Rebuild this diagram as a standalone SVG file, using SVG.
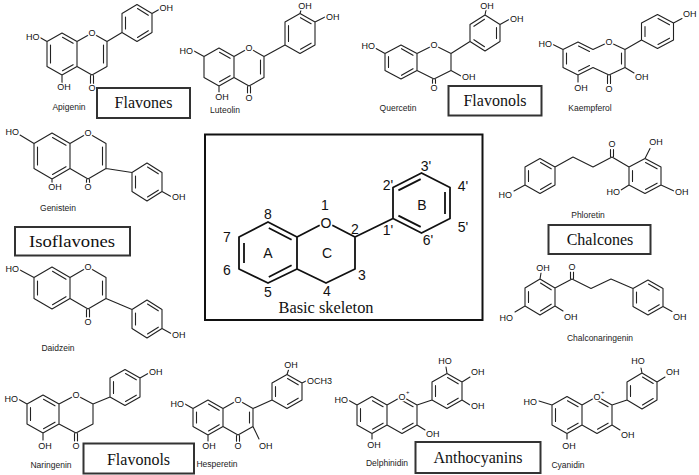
<svg xmlns="http://www.w3.org/2000/svg" width="699" height="475" viewBox="0 0 699 475">
<style>
.b{fill:none;stroke:#222;stroke-width:1.1;stroke-linecap:round;stroke-linejoin:round}
.sk{fill:none;stroke:#111;stroke-width:1.8;stroke-linejoin:round}
.k{fill:#fff;stroke:none}
.t{font-family:"Liberation Sans",Arial,sans-serif;font-size:9px;fill:#111;stroke:#fff;stroke-width:3px;paint-order:stroke;stroke-linejoin:round}
.e{text-anchor:end}
.c{text-anchor:middle}
.nm{font-family:"Liberation Sans",Arial,sans-serif;font-size:8.5px;fill:#222;text-anchor:middle}
.box{fill:#fff;stroke:#333;stroke-width:2}
.cat{font-family:"Liberation Serif","DejaVu Serif","Noto Serif","Times New Roman",Times,serif;font-size:16px;text-anchor:middle;fill:#111}
.num{font-family:"Liberation Sans",Arial,sans-serif;font-size:14px;text-anchor:middle;fill:#111}
.sup{font-family:"Liberation Sans",Arial,sans-serif;font-size:6px;fill:#111}
</style>
<rect width="699" height="475" fill="#fff"/>

<g id="apigenin">
<path class="b" d="M62,33 L77,41.5 L77,66.5 L62,75 L47,66.5 L47,41.5 Z M77,41.5 L92,33 L107,41.5 L107,66.5 L92,75 L77,66.5 M50.5,45 L50.5,63 M62.5,37.3 L73.1,43.3 M73.1,64.7 L62.5,70.7 M103.5,45 L103.5,63 M90.5,75.5 L90.5,84 M93.5,75.5 L93.5,84 M47,41.5 L40,37.5 M62,75 L62,83 M107,41.5 L122,32.5 M137,4.5 L152,13.5 L152,32.5 L137,41.5 L122,32.5 L122,13.5 Z M125.5,17 L125.5,29 M137.5,8.5 L148.3,15.3 M148.3,30.7 L137.5,37.5 M152,13.5 L159,9.5"/>
<circle class="k" cx="92" cy="33" r="3.8"/>
<text class="t e" x="39.5" y="40">HO</text>
<text class="t c" x="92" y="36.2">O</text>
<text class="t c" x="92" y="91">O</text>
<text class="t c" x="64" y="90">OH</text>
<text class="t" x="159.5" y="11">OH</text>
<text class="nm" x="69" y="110">Apigenin</text>
</g>

<g id="luteolin">
<path class="b" d="M219,48 L234,56.5 L234,77.5 L219,86 L204,77.5 L204,56.5 Z M234,56.5 L249,48 L264,56.5 L264,77.5 L249,86 L234,77.5 M219.5,52.3 L230.1,58.3 M230.1,75.7 L219.5,81.7 M260.5,60 L260.5,74 M247.5,86.5 L247.5,93 M250.5,86.5 L250.5,93 M219,86 L219,92 M204,56.5 L194,51 M264,56.5 L285,45 M300,13.5 L315,22 L315,45 L300,53.5 L285,45 L285,22 Z M288.5,25.5 L288.5,41.5 M300.5,17.7 L311.1,23.7 M311.1,43.2 L300.5,49.2 M300,13.5 L301,10 M315,22 L325,17"/>
<circle class="k" cx="249" cy="48" r="3.8"/>
<text class="t e" x="193" y="54">HO</text>
<text class="t c" x="249" y="51.2">O</text>
<text class="t c" x="249" y="100.5">O</text>
<text class="t c" x="222" y="100">OH</text>
<text class="t c" x="305" y="9">OH</text>
<text class="t" x="326" y="20">OH</text>
<text class="nm" x="225" y="113">Luteolin</text>
</g>

<g id="quercetin">
<path class="b" d="M401,45 L417,53.5 L417,70.5 L401,79 L385,70.5 L385,53.5 Z M417,53.5 L434,45 L451,53.5 L451,70.5 L434,79 L417,70.5 M388.5,56.5 L388.5,67.5 M401.5,48.7 L413,55.3 M413,68.7 L401.5,75.3 M432.5,79.5 L432.5,84.5 M435.5,79.5 L435.5,84.5 M451,70.5 L461,76 M385,53.5 L376,48.5 M451,53.5 L470,41.5 M485,15 L500,24.5 L500,41.5 L485,51 L470,41.5 L470,24.5 Z M496.5,27.5 L496.5,38.5 M473.9,26.3 L484.5,19.3 M484.5,46.7 L473.9,39.7 M485,15 L486,10 M500,24.5 L509,19.5"/>
<circle class="k" cx="434" cy="45" r="3.8"/>
<text class="t e" x="375" y="49">HO</text>
<text class="t c" x="434" y="48.2">O</text>
<text class="t c" x="434" y="91">O</text>
<text class="t" x="462" y="80">OH</text>
<text class="t c" x="487" y="8.5">OH</text>
<text class="t" x="510" y="21.5">OH</text>
<text class="nm" x="398" y="111">Quercetin</text>
</g>

<g id="kaempferol">
<path class="b" d="M563,49.5 L578,42 L593,49.5 L609,42 L625,49.5 L625,67.5 L609,75 L593,67.5 L578,75 L563,67.5 Z M566.5,53 L566.5,64 M578.5,46 L589.5,51.5 M589.5,65.5 L578.5,71 M621.5,53 L621.5,64 M607.5,75.5 L607.5,83.5 M610.5,75.5 L610.5,83.5 M563,49.5 L553,44.5 M578,75 L578,82 M625,67.5 L634,73 M625,49.5 L641.5,40 M657.5,14.5 L673.5,23 L673.5,40 L657.5,48.5 L641.5,40 L641.5,23 Z M645,26.5 L645,36.5 M658,18.5 L669.5,24.8 M669.5,38.2 L658,44.5 M673.5,23 L682,18.5"/>
<circle class="k" cx="609" cy="42" r="3.8"/>
<text class="t e" x="552" y="47">HO</text>
<text class="t c" x="609" y="45.2">O</text>
<text class="t c" x="609" y="92">O</text>
<text class="t c" x="581" y="91">OH</text>
<text class="t" x="635" y="80">OH</text>
<text class="t" x="683" y="17">OH</text>
<text class="nm" x="590" y="111">Kaempferol</text>
</g>

<g id="genistein">
<path class="b" d="M52,133 L70,143.5 L70,168.5 L52,179 L34,168.5 L34,143.5 Z M70,143.5 L88,133 L106,143.5 L106,168.5 L88,179 L70,168.5 M37.5,147 L37.5,165 M52.5,137.5 L66,145.3 M66,166.7 L52.5,174.5 M102.5,147 L102.5,165 M86.5,179.5 L86.5,183 M89.5,179.5 L89.5,183 M34,143.5 L20,135 M52,179 L52,183 M106,168.5 L132,172.5 M147,163 L162,172.5 L162,191.5 L147,201 L132,191.5 L132,172.5 Z M135.5,176 L135.5,188 M147.5,167 L158.3,173.8 M158.3,190.2 L147.5,197 M162,191.5 L171,196.5"/>
<circle class="k" cx="88" cy="133" r="3.8"/>
<text class="t e" x="19" y="135">HO</text>
<text class="t c" x="88" y="136.2">O</text>
<text class="t c" x="88" y="190">O</text>
<text class="t c" x="55" y="190">OH</text>
<text class="t" x="172" y="200">OH</text>
<text class="nm" x="58" y="211">Genistein</text>
</g>

<g id="daidzein">
<path class="b" d="M52,267 L70,277.5 L70,298.5 L52,309 L34,298.5 L34,277.5 Z M70,277.5 L88,267 L106,277.5 L106,298.5 L88,309 L70,298.5 M37.5,281 L37.5,295 M52.5,271.3 L66,279.3 M66,296.7 L52.5,304.7 M102.5,281 L102.5,295 M86.5,309.5 L86.5,317 M89.5,309.5 L89.5,317 M34,277.5 L20,270 M106,298.5 L132,309.5 M147,300 L162,309.5 L162,328.5 L147,338 L132,328.5 L132,309.5 Z M135.5,313 L135.5,325 M147.5,304 L158.3,310.8 M158.3,327.2 L147.5,334 M162,328.5 L171,333.5"/>
<circle class="k" cx="88" cy="267" r="3.8"/>
<text class="t e" x="19" y="272">HO</text>
<text class="t c" x="88" y="270.2">O</text>
<text class="t c" x="88" y="325">O</text>
<text class="t" x="172" y="338">OH</text>
<text class="nm" x="58" y="351">Daidzein</text>
</g>

<g id="phloretin">
<path class="b" d="M540,158.5 L555,167 L555,185 L540,193.5 L525,185 L525,167 Z M528.5,170.5 L528.5,181.5 M540.5,162.5 L551.2,168.8 M551.2,183.2 L540.5,189.5 M555,167 L573,157 L593,167 L612,157 L629,167 M610.5,156.5 L610.5,149.5 M613.5,156.5 L613.5,149.5 M645,158.5 L661,167 L661,185 L645,193.5 L629,185 L629,167 Z M632.5,170.5 L632.5,181.5 M645.5,162.5 L657.1,168.8 M657.1,183.2 L645.5,189.5 M525,185 L514,191 M645,158.5 L650,148.5 M629,185 L621,190 M661,185 L674,191"/>
<text class="t c" x="612" y="147">O</text>
<text class="t e" x="512" y="198">HO</text>
<text class="t c" x="656" y="145">OH</text>
<text class="t e" x="620" y="195">HO</text>
<text class="t" x="675" y="195">OH</text>
<text class="nm" x="588" y="218">Phloretin</text>
</g>

<g id="chalconaringenin">
<path class="b" d="M540,279 L555,288 L555,306 L540,315 L525,306 L525,288 Z M528.5,291.5 L528.5,302.5 M540.5,283 L551.2,289.8 M551.2,304.2 L540.5,311 M555,288 L572,279 L591,288.5 L611,279 L633,288.5 M570.5,278.5 L570.5,272 M573.5,278.5 L573.5,272 M648,280 L663,288.5 L663,306.5 L648,315 L633,306.5 L633,288.5 Z M636.5,292 L636.5,303 M648.5,284 L659.2,290.3 M659.2,304.7 L648.5,311 M540,279 L541,273 M525,306 L515,312 M555,306 L563,311 M663,306.5 L672,311.5"/>
<text class="t c" x="572" y="270">O</text>
<text class="t c" x="543" y="271">OH</text>
<text class="t e" x="513" y="321">HO</text>
<text class="t" x="564" y="320">OH</text>
<text class="t" x="673" y="320">OH</text>
<text class="nm" x="600" y="341">Chalconaringenin</text>
</g>

<g id="naringenin">
<path class="b" d="M43,395 L59,404 L59,424 L43,433 L27,424 L27,404 Z M59,404 L76,395 L93,404 L93,424 L76,433 L59,424 M30.5,407.5 L30.5,420.5 M43.5,399.3 L55,405.8 M55,422.2 L43.5,428.7 M74.5,433.5 L74.5,441 M77.5,433.5 L77.5,441 M27,404 L19,399.5 M43,433 L43,440 M93,404 L110,397 M125,369.5 L140,378 L140,397 L125,405.5 L110,397 L110,378 Z M113.5,381.5 L113.5,393.5 M125.5,373.5 L136.3,379.8 M136.3,395.2 L125.5,401.5 M140,378 L148,373.5"/>
<circle class="k" cx="76" cy="395" r="3.8"/>
<text class="t e" x="18" y="402">HO</text>
<text class="t c" x="76" y="398.2">O</text>
<text class="t c" x="76" y="449">O</text>
<text class="t c" x="45" y="449">OH</text>
<text class="t" x="149" y="375">OH</text>
<text class="nm" x="51" y="468">Naringenin</text>
</g>

<g id="hesperetin">
<path class="b" d="M208,400 L223,408.5 L223,426.5 L208,435 L193,426.5 L193,408.5 Z M223,408.5 L238,400 L253,408.5 L253,426.5 L238,435 L223,426.5 M196.5,412 L196.5,423 M208.5,404 L219.2,410.3 M219.2,424.7 L208.5,431 M249.5,412 L249.5,423 M236.5,435.5 L236.5,441.5 M239.5,435.5 L239.5,441.5 M193,408.5 L185,404 M208,435 L208,441 M253,426.5 L259,439 M253,408.5 L272,400 M287,374.5 L302,383 L302,400 L287,408.5 L272,400 L272,383 Z M275.5,386.5 L275.5,396.5 M287.5,378.5 L298.2,384.8 M298.2,398.2 L287.5,404.5 M287,374.5 L288.5,370 M302,383 L306,381"/>
<circle class="k" cx="238" cy="400" r="3.8"/>
<text class="t e" x="184" y="406.5">HO</text>
<text class="t c" x="238" y="403.2">O</text>
<text class="t c" x="238" y="449">O</text>
<text class="t c" x="209" y="449">OH</text>
<text class="t" x="259" y="449">OH</text>
<text class="t c" x="291" y="368">OH</text>
<text class="t" x="307" y="383.5">OCH3</text>
<text class="nm" x="217" y="467">Hesperetin</text>
</g>

<g id="delphinidin">
<path class="b" d="M372,396.5 L387,405 L387,425 L372,433.5 L357,425 L357,405 Z M387,405 L402,396.5 L417,405 L417,425 L402,433.5 L387,425 M360.5,408.5 L360.5,421.5 M372.5,400.7 L383.1,406.7 M383.1,423.2 L372.5,429.2 M402.5,400.7 L413.1,406.7 M413.1,423.2 L402.5,429.2 M357,405 L349,400.5 M372,433.5 L372,439 M417,425 L425,430 M417,405 L432,400 M447,373.5 L462,382 L462,400 L447,408.5 L432,400 L432,382 Z M435.5,385.5 L435.5,396.5 M447.5,377.5 L458.2,383.8 M458.2,398.2 L447.5,404.5 M447,373.5 L446,367 M462,382 L470,377 M462,400 L470,405"/>
<circle class="k" cx="402" cy="396.5" r="3.8"/>
<text class="t e" x="348" y="403">HO</text>
<text class="t c" x="402" y="399.7">O</text>
<text class="sup" x="406" y="394">+</text>
<text class="t c" x="374" y="448">OH</text>
<text class="t" x="426" y="437">OH</text>
<text class="t c" x="445" y="364">HO</text>
<text class="t" x="471" y="375">OH</text>
<text class="t" x="471" y="409">OH</text>
<text class="nm" x="387" y="466">Delphinidin</text>
</g>

<g id="cyanidin">
<path class="b" d="M567,396.5 L582,405 L582,425 L567,433.5 L552,425 L552,405 Z M582,405 L597,396.5 L612,405 L612,425 L597,433.5 L582,425 M555.5,408.5 L555.5,421.5 M567.5,400.7 L578.1,406.7 M578.1,423.2 L567.5,429.2 M597.5,400.7 L608.1,406.7 M608.1,423.2 L597.5,429.2 M552,405 L539,401 M567,433.5 L567,439 M612,425 L620,430 M612,405 L627,400 M642,373 L657,382 L657,400 L642,409 L627,400 L627,382 Z M630.5,385.5 L630.5,396.5 M642.5,377 L653.2,383.5 M653.2,398.5 L642.5,405 M642,373 L641,368 M657,382 L665,377"/>
<circle class="k" cx="597" cy="396.5" r="3.8"/>
<text class="t e" x="537" y="405">HO</text>
<text class="t c" x="597" y="399.7">O</text>
<text class="sup" x="601" y="394">+</text>
<text class="t c" x="569" y="449">OH</text>
<text class="t" x="621" y="438">OH</text>
<text class="t c" x="638" y="364">HO</text>
<text class="t" x="666" y="375">OH</text>
<text class="nm" x="568" y="468">Cyanidin</text>
</g>

<g id="skeleton">
<rect x="205" y="134.5" width="277.5" height="185.5" fill="none" stroke="#111" stroke-width="2"/>
<path class="sk" d="M268,222 L297,237 L297,269 L268,283 L239,269 L239,237 Z M297,237 L326,222 L355,237 L355,269 L326,283 L297,269 M244,243 L244,263 M268.8,228 L291.6,239.8 M291.6,265.2 L268.8,277 M355,237 L393,218.5 M421.5,173 L450,187.5 L450,218.5 L421.5,233 L393,218.5 L393,187.5 Z M445,192 L445,214 M398.4,190.4 L420.7,179.1 M420.7,226.9 L398.4,215.6"/>
<circle class="k" cx="326" cy="222.5" r="7"/>
<text class="num" x="326" y="228">O</text>
<text class="num" x="325" y="210">1</text>
<text class="num" x="355" y="234">2</text>
<text class="num" x="362" y="280">3</text>
<text class="num" x="327" y="296">4</text>
<text class="num" x="268" y="297">5</text>
<text class="num" x="227" y="275">6</text>
<text class="num" x="227" y="242">7</text>
<text class="num" x="268" y="219">8</text>
<text class="num" x="268" y="258">A</text>
<text class="num" x="327" y="258">C</text>
<text class="num" x="422" y="210">B</text>
<text class="num" x="388" y="235">1'</text>
<text class="num" x="388" y="190">2'</text>
<text class="num" x="426" y="171">3'</text>
<text class="num" x="463" y="191">4'</text>
<text class="num" x="463" y="232">5'</text>
<text class="num" x="428" y="245">6'</text>
<text class="cat" x="326" y="313" font-size="15" textLength="95" lengthAdjust="spacingAndGlyphs">Basic skeleton</text>
</g>

<g id="cat-flavones">
<rect class="box" x="97" y="88" width="93" height="30"/>
<text class="cat" x="143.5" y="108">Flavones</text>
</g>
<g id="cat-flavonols-top">
<rect class="box" x="448.5" y="86" width="93" height="29.5"/>
<text class="cat" x="495" y="106">Flavonols</text>
</g>
<g id="cat-isoflavones">
<rect class="box" x="15" y="227" width="115" height="28.5"/>
<text class="cat" x="72" y="247" textLength="86" lengthAdjust="spacingAndGlyphs">Isoflavones</text>
</g>
<g id="cat-chalcones">
<rect class="box" x="548.5" y="225" width="102" height="29"/>
<text class="cat" x="600" y="245">Chalcones</text>
</g>
<g id="cat-flavonols-bottom">
<rect class="box" x="83.5" y="443.5" width="110.5" height="30"/>
<text class="cat" x="138.5" y="465">Flavonols</text>
</g>
<g id="cat-anthocyanins">
<rect class="box" x="415.5" y="442" width="125" height="31"/>
<text class="cat" x="478" y="463">Anthocyanins</text>
</g>
<g id="connectors"/>
</svg>
